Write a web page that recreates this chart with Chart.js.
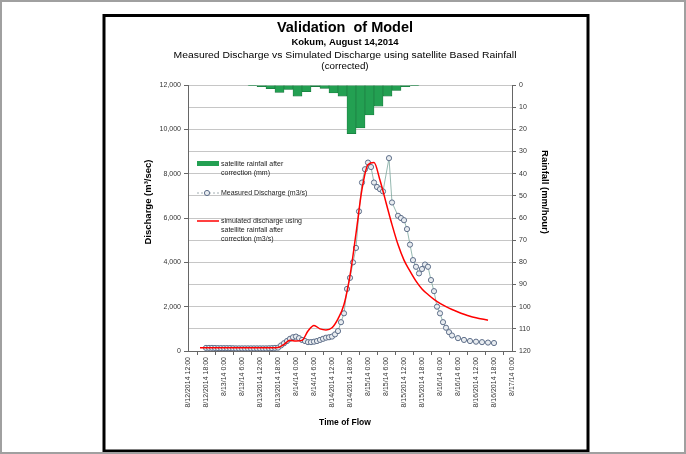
<!DOCTYPE html>
<html>
<head>
<meta charset="utf-8">
<script src="https://cdn.jsdelivr.net/npm/chart.js@4/dist/chart.umd.min.js"></script>
<style>
  html, body { margin: 0; padding: 0; background: #fff; }
  #wrap { position: relative; width: 686px; height: 454px; }
</style>
</head>
<body>
<div id="wrap"><canvas id="c" width="686" height="454"></canvas></div>
<script>
// Time axis: hours after 8/12/2014 12:00, labelled every 6 hours
const tickLabels = [
  "8/12/2014 12:00", "8/12/2014 18:00", "8/13/14 0:00", "8/13/14 6:00",
  "8/13/2014 12:00", "8/13/2014 18:00", "8/14/14 0:00", "8/14/14 6:00",
  "8/14/2014 12:00", "8/14/2014 18:00", "8/15/14 0:00", "8/15/14 6:00",
  "8/15/2014 12:00", "8/15/2014 18:00", "8/16/14 0:00", "8/16/14 6:00",
  "8/16/2014 12:00", "8/16/2014 18:00", "8/17/14 0:00"
];

// Satellite rainfall after correction (mm), 3-hour totals centred on these hours
const rainHours = [21.5, 24.5, 27.5, 30.5, 33.5, 36.5, 39.5, 42.5, 45.5, 48.5,
                   51.5, 54.5, 57.5, 60.5, 63.5, 66.5, 69.5, 72.5, 75.5];
const rainfall  = [0.3, 0.8, 1.7, 3.3, 2.0, 5.0, 3.0, 0.7, 1.5, 3.6,
                   5.0, 22.0, 19.4, 13.5, 9.5, 5.0, 2.5, 0.8, 0.3];

// Measured discharge (m3/s)
const measuredHours = [6, 7, 8, 9, 10, 11, 12, 13, 14, 15, 16, 17, 18, 19, 20,
  21, 22, 23, 24, 25, 26, 27, 28, 29, 30, 31, 32, 33, 34, 35, 36, 37, 38, 39,
  40, 41, 42, 43, 44, 45, 46, 47, 48, 49, 50, 51, 52, 53, 54, 55, 56, 57, 58,
  59, 60, 61, 62, 63, 64, 65, 67, 68, 70, 71, 72, 73, 74, 75, 76, 77, 78,
  79, 80, 81, 82, 83, 84, 85, 86, 87, 88, 90, 92, 94, 96, 98, 100, 102];
const measuredQ = [140, 140, 140, 135, 130, 130, 130, 130, 130, 125, 120, 120, 120, 120, 120,
  120, 120, 120, 120, 120, 120, 125, 130, 140, 150, 250, 350, 450, 550, 620, 650, 580, 500, 450,
  400, 400, 420, 450, 500, 550, 600, 620, 650, 750, 900, 1300, 1700, 2800, 3300, 4000, 4650, 6300, 7600,
  8200, 8500, 8300, 7600, 7400, 7300, 7200, 8700, 6700, 6100, 6000, 5900, 5500, 4800, 4100, 3800, 3500, 3700,
  3900, 3800, 3200, 2700, 2000, 1700, 1300, 1050, 850, 700, 580, 500, 450, 420, 400, 380, 360];

// Simulated discharge using corrected satellite rainfall (m3/s)
const simHours = [4, 8, 12, 16, 20, 24, 28, 30, 32, 34, 36, 38, 40, 42, 44, 46, 48,
  50, 52, 54, 56, 58, 60, 62, 64, 66, 68, 70, 72, 74, 76, 78, 80, 82, 84, 86,
  88, 90, 92, 94, 96, 98, 100];
const simulatedQ = [150, 150, 150, 150, 150, 150, 150, 160, 300, 480, 450, 480, 900, 1150, 1000, 950, 1050,
  1450, 2100, 3400, 5300, 7300, 8400, 8500, 7700, 6700, 5700, 4800, 4100, 3600, 3150, 2800, 2550, 2330, 2150, 2000,
  1870, 1760, 1660, 1570, 1500, 1440, 1390];

const pairs = (xs, ys) => xs.map((x, i) => ({ x: x, y: ys[i] }));

const FONT = "'Liberation Sans', Arial, sans-serif";

// centred text stretched horizontally
function wideText(ctx, text, x, y, sx) {
  ctx.save();
  ctx.translate(x, y);
  ctx.scale(sx, 1);
  ctx.fillText(text, 0, 0);
  ctx.restore();
}

// Titles, axis titles, in-plot legend and the framing
const decorations = {
  id: 'decorations',
  afterDraw(chart) {
    const ctx = chart.ctx;
    ctx.save();
    ctx.fillStyle = '#000';
    ctx.textAlign = 'center';
    ctx.textBaseline = 'middle';
    ctx.font = 'bold 14.5px ' + FONT;
    ctx.fillText('Validation  of Model', 345, 28);
    ctx.font = 'bold 9.5px ' + FONT;
    ctx.fillText('Kokum, August 14,2014', 345, 42);
    ctx.font = '8.5px ' + FONT;
    wideText(ctx, 'Measured Discharge vs Simulated Discharge using satellite Based Rainfall', 345, 56, 1.22);
    wideText(ctx, '(corrected)', 345, 67, 1.15);

    ctx.font = 'bold 8.5px ' + FONT;
    ctx.fillText('Time of Flow', 345, 423);
    ctx.font = 'bold 9.5px ' + FONT;
    ctx.save();
    ctx.translate(148, 202);
    ctx.rotate(-Math.PI / 2);
    ctx.fillText('Discharge (m\u00B3/sec)', 0, 0);
    ctx.restore();
    ctx.save();
    ctx.translate(545, 192);
    ctx.rotate(Math.PI / 2);
    ctx.fillText('Rainfall (mm/hour)', 0, 0);
    ctx.restore();

    // legend
    ctx.textAlign = 'left';
    ctx.font = '7px ' + FONT;
    ctx.fillStyle = '#23a052';
    ctx.fillRect(197, 161, 22, 5);
    ctx.fillStyle = '#222';
    ctx.fillText('satellite rainfall after', 221, 164);
    ctx.fillText('correction (mm)', 221, 173);

    ctx.strokeStyle = '#8a9aa0';
    ctx.lineWidth = 0.8;
    ctx.setLineDash([2, 2]);
    ctx.beginPath(); ctx.moveTo(197, 193); ctx.lineTo(219, 193); ctx.stroke();
    ctx.setLineDash([]);
    ctx.fillStyle = '#e8ecf0';
    ctx.strokeStyle = '#5f6f8a';
    ctx.lineWidth = 1;
    ctx.beginPath(); ctx.arc(207, 193, 2.6, 0, Math.PI * 2); ctx.fill(); ctx.stroke();
    ctx.fillStyle = '#222';
    ctx.fillText('Measured Discharge (m3/s)', 221, 193);

    ctx.strokeStyle = '#ff0000';
    ctx.lineWidth = 1.5;
    ctx.beginPath(); ctx.moveTo(197, 221); ctx.lineTo(219, 221); ctx.stroke();
    ctx.fillText('simulated discharge using', 221, 221);
    ctx.fillText('satellite rainfall after', 221, 230);
    ctx.fillText('correction (m3/s)', 221, 239);

    // frames
    ctx.strokeStyle = '#000';
    ctx.lineWidth = 3;
    ctx.strokeRect(104, 15.5, 484, 435.5);
    ctx.strokeStyle = '#a0a0a0';
    ctx.lineWidth = 2;
    ctx.strokeRect(1, 1, 684, 452);
    ctx.restore();
  }
};

new Chart(document.getElementById('c'), {
  type: 'bar',
  data: {
    datasets: [
      {
        type: 'line',
        label: 'simulated discharge using satellite rainfall after correction (m3/s)',
        data: pairs(simHours, simulatedQ),
        yAxisID: 'y',
        borderColor: '#ff0000',
        borderWidth: 1.5,
        pointRadius: 0,
        cubicInterpolationMode: 'monotone',
        fill: false
      },
      {
        type: 'line',
        label: 'Measured Discharge (m3/s)',
        data: pairs(measuredHours, measuredQ),
        yAxisID: 'y',
        borderColor: '#7aa69c',
        borderWidth: 0.8,
        pointRadius: 2.6,
        pointBorderWidth: 1,
        pointBorderColor: '#5f6f8a',
        pointBackgroundColor: '#e8ecf0',
        fill: false
      },
      {
        type: 'bar',
        label: 'satellite rainfall after correction (mm)',
        data: pairs(rainHours, rainfall),
        yAxisID: 'y1',
        backgroundColor: '#23a052',
        borderColor: '#126e36',
        borderWidth: 0.6,
        barPercentage: 1,
        categoryPercentage: 1
      }
    ]
  },
  options: {
    responsive: false,
    animation: false,
    layout: { padding: { left: 138, right: 134, top: 85, bottom: 20 } },
    plugins: { legend: { display: false }, tooltip: { enabled: false } },
    scales: {
      x: {
        type: 'linear',
        min: 0,
        max: 108,
        offset: false,
        ticks: {
          stepSize: 6,
          autoSkip: false,
          minRotation: 90,
          maxRotation: 90,
          padding: 2,
          color: '#333',
          font: { size: 7, family: FONT },
          callback: (v) => tickLabels[Math.round(v / 6)]
        },
        grid: { drawOnChartArea: false, tickLength: 4, color: '#666' },
        border: { color: '#666', width: 1 },
        afterFit: (s) => { s.height = 83; }
      },
      y: {
        position: 'left',
        min: 0,
        max: 12000,
        ticks: {
          stepSize: 2000,
          padding: 3,
          color: '#333',
          font: { size: 7, family: FONT },
          callback: (v) => v.toLocaleString('en-US')
        },
        grid: { drawOnChartArea: false, tickLength: 4, color: '#666' },
        border: { color: '#666', width: 1 },
        afterFit: (s) => { s.width = 50; }
      },
      y1: {
        position: 'right',
        reverse: true,
        min: 0,
        max: 120,
        ticks: {
          stepSize: 10,
          padding: 3,
          color: '#333',
          font: { size: 7, family: FONT }
        },
        grid: { drawOnChartArea: true, color: '#c6c6c6', tickColor: '#666', tickLength: 4 },
        border: { color: '#666', width: 1 },
        afterFit: (s) => { s.width = 40; }
      }
    }
  },
  plugins: [decorations]
});
</script>
</body>
</html>
